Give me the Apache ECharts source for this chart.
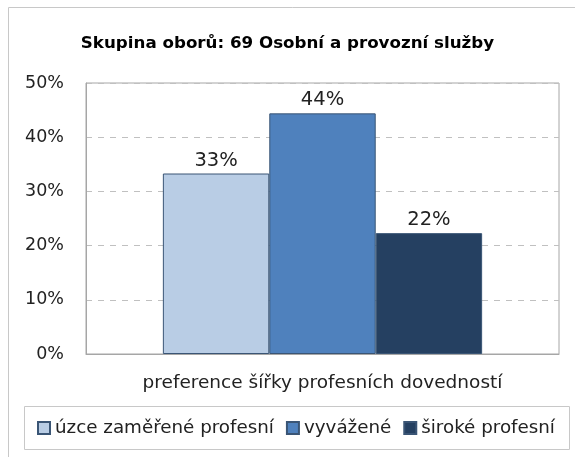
<!DOCTYPE html>
<html>
<head>
<meta charset="utf-8">
<script src="https://cdn.jsdelivr.net/npm/echarts@6/dist/echarts.min.js"></script>
<style>
  html, body { margin: 0; padding: 0; background: #fff; }
  #chart { width: 575px; height: 457px; }
</style>
</head>
<body>
<div id="chart"></div>
<script>
var titleText = 'Skupina oborů: 69 Osobní a provozní služby';
var categories = ['preference šířky profesních dovedností'];
var seriesNames = ['úzce zaměřené profesní', 'vyvážené', 'široké profesní'];
var seriesValues = [[33.3], [44.4], [22.3]];
var seriesColors = ['#b9cde5', '#4f81bd', '#254061'];
var yTicks = { min: 0, max: 50, interval: 10 };

var font = 'DejaVu Sans';
var chart = echarts.init(document.getElementById('chart'));

var series = seriesNames.map(function (name, i) {
    return {
        name: name,
        type: 'bar',
        data: seriesValues[i],
        barGap: '0%',
        barCategoryGap: '32.5%',
        itemStyle: { color: seriesColors[i], borderColor: '#3a5575', borderWidth: 1 },
        label: {
            show: true,
            position: 'top',
            distance: 3,
            color: '#222',
            fontFamily: font,
            fontSize: 19.5,
            formatter: function (p) { return Math.round(p.value) + '%'; }
        }
    };
});

chart.setOption({
    animation: false,
    title: {
        text: titleText,
        left: 'center',
        top: 30,
        textStyle: { fontFamily: font, fontSize: 16.7, fontWeight: 'bold', color: '#000' }
    },
    graphic: [
        { type: 'rect', shape: { x: 8.5, y: 7.5, width: 600, height: 500 },
          style: { fill: 'none', stroke: '#c8c8c8', lineWidth: 1 }, z: -1 },
        { type: 'rect', shape: { x: 24.5, y: 406.5, width: 545, height: 43 },
          style: { fill: 'none', stroke: '#c8c8c8', lineWidth: 1 }, z: -1 }
    ],
    grid: {
        left: 86, right: 16, top: 83, bottom: 103,
        show: true, borderColor: '#a6a6a6', borderWidth: 1
    },
    legend: {
        left: 32,
        top: 414,
        itemWidth: 12,
        itemHeight: 12,
        itemGap: 12,
        icon: 'rect',
        textStyle: { fontFamily: font, fontSize: 18.3, color: '#222' },
        data: seriesNames
    },
    xAxis: {
        type: 'category',
        data: categories,
        axisLabel: { show: false },
        axisTick: { show: false },
        axisLine: { lineStyle: { color: '#a6a6a6' } },
        name: categories[0],
        nameLocation: 'middle',
        nameGap: 20,
        nameTextStyle: { fontFamily: font, fontSize: 18.5, color: '#222' }
    },
    yAxis: {
        type: 'value',
        min: yTicks.min,
        max: yTicks.max,
        interval: yTicks.interval,
        axisLine: { show: true, lineStyle: { color: '#a6a6a6' } },
        axisTick: { show: false },
        axisLabel: {
            formatter: '{value}%',
            margin: 22,
            fontFamily: font,
            fontSize: 17.5,
            color: '#222'
        },
        splitLine: { lineStyle: { color: '#c0c0c0', type: [6, 6] } }
    },
    series: series
});
</script>
</body>
</html>
